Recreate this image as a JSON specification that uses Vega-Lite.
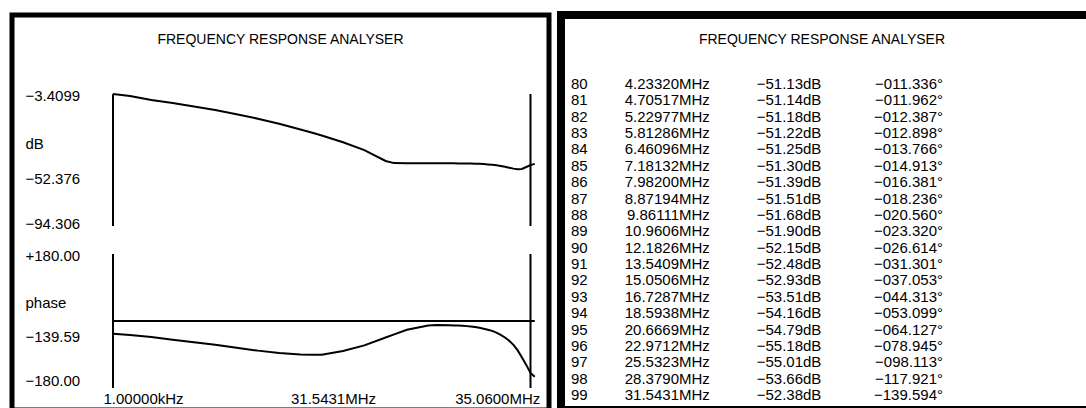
{
  "$schema": "https://vega.github.io/schema/vega-lite/v6.json",
  "background": "white",
  "padding": {"left": 9, "top": 11, "right": 0, "bottom": 2},
  "spacing": 5,
  "config": {
    "font": "Liberation Sans",
    "view": {"stroke": "black", "strokeWidth": 5},
    "axis": {"domain": false, "ticks": false, "tickSize": 0, "grid": false, "labelPadding": 0, "labelFontSize": 15, "labelColor": "black", "titleFontSize": 15, "titleFontWeight": "normal", "titleColor": "black", "labelOverlap": false, "labelFlush": false},
    "title": {"fontSize": 14, "fontWeight": "normal", "color": "black"}
  },
  "datasets": {
    "sweep": [
      {"n": 1, "f": 0.001, "db": -3.41, "phase": -34.0},
      {"n": 5, "f": 0.0015261, "db": -4.8, "phase": -37.5},
      {"n": 10, "f": 0.0025888, "db": -7.5, "phase": -43.0},
      {"n": 15, "f": 0.0043923, "db": -9.6, "phase": -50.3},
      {"n": 20, "f": 0.0074513, "db": -12.0, "phase": -57.0},
      {"n": 25, "f": 0.012637, "db": -14.4, "phase": -63.8},
      {"n": 30, "f": 0.021443, "db": -17.3, "phase": -72.0},
      {"n": 35, "f": 0.036377, "db": -20.4, "phase": -79.6},
      {"n": 40, "f": 0.061713, "db": -23.9, "phase": -85.8},
      {"n": 45, "f": 0.10468, "db": -27.8, "phase": -90.2},
      {"n": 48, "f": 0.14375, "db": -30.3, "phase": -91.0},
      {"n": 50, "f": 0.17759, "db": -32.0, "phase": -90.8},
      {"n": 55, "f": 0.30123, "db": -36.6, "phase": -80.5},
      {"n": 60, "f": 0.51094, "db": -42.0, "phase": -65.4},
      {"n": 65, "f": 0.86695, "db": -49.5, "phase": -44.2},
      {"n": 67, "f": 1.0710, "db": -51.0, "phase": -35.9},
      {"n": 70, "f": 1.4708, "db": -51.05, "phase": -23.5},
      {"n": 75, "f": 2.4950, "db": -51.1, "phase": -12.0},
      {"n": 77, "f": 3.0829, "db": -51.12, "phase": -10.8},
      {"n": 80, "f": 4.23320, "db": -51.13, "phase": -11.336},
      {"n": 81, "f": 4.70517, "db": -51.14, "phase": -11.962},
      {"n": 82, "f": 5.22977, "db": -51.18, "phase": -12.387},
      {"n": 83, "f": 5.81286, "db": -51.22, "phase": -12.898},
      {"n": 84, "f": 6.46096, "db": -51.25, "phase": -13.766},
      {"n": 85, "f": 7.18132, "db": -51.30, "phase": -14.913},
      {"n": 86, "f": 7.98200, "db": -51.39, "phase": -16.381},
      {"n": 87, "f": 8.87194, "db": -51.51, "phase": -18.236},
      {"n": 88, "f": 9.86111, "db": -51.68, "phase": -20.560},
      {"n": 89, "f": 10.9606, "db": -51.90, "phase": -23.320},
      {"n": 90, "f": 12.1826, "db": -52.15, "phase": -26.614},
      {"n": 91, "f": 13.5409, "db": -52.48, "phase": -31.301},
      {"n": 92, "f": 15.0506, "db": -52.93, "phase": -37.053},
      {"n": 93, "f": 16.7287, "db": -53.51, "phase": -44.313},
      {"n": 94, "f": 18.5938, "db": -54.16, "phase": -53.099},
      {"n": 95, "f": 20.6669, "db": -54.79, "phase": -64.127},
      {"n": 96, "f": 22.9712, "db": -55.18, "phase": -78.945},
      {"n": 97, "f": 25.5323, "db": -55.01, "phase": -98.113},
      {"n": 98, "f": 28.3790, "db": -53.66, "phase": -117.921},
      {"n": 99, "f": 31.5431, "db": -52.38, "phase": -139.594},
      {"n": 100, "f": 35.0600, "db": -51.5, "phase": -150.0}
    ],
    "dbFrame": [
      {"f": 0.001, "db": -3.4099, "db2": -94.306},
      {"f": 31.5431, "db": -3.4099, "db2": -94.306}
    ],
    "phaseFrame": [
      {"f": 0.001, "phase": 180, "phase2": -180},
      {"f": 31.5431, "phase": 180, "phase2": -180}
    ],
    "phaseZero": [
      {"f": 0.001, "f2": 35.06, "phase": 0}
    ]
  },
  "hconcat": [
    {
      "width": 537,
      "height": 395,
      "title": {"text": "FREQUENCY RESPONSE ANALYSER", "offset": -39, "baseline": "middle", "frame": "group", "anchor": "middle"},
      "encoding": {
        "x": {
          "field": "f", "type": "quantitative",
          "scale": {"type": "log", "domain": [0.00008158, 49.93], "nice": false},
          "axis": {
            "values": [0.001, 35.06],
            "orient": "bottom",
            "offset": -12,
            "labelExpr": "datum.value < 0.01 ? format(datum.value * 1000, '.6r') + 'kHz' : format(datum.value, '.6r') + 'MHz'",
            "labelBaseline": "middle",
            "labelAlign": {"condition": {"test": "datum.value < 1", "value": "left"}, "value": "right"},
            "labelOffset": {"condition": {"test": "datum.value < 1", "value": -10}, "value": 5},
            "title": "31.5431MHz",
            "titleX": 321,
            "titleY": 0,
            "titleBaseline": "middle",
            "titleAlign": "center"
          }
        }
      },
      "layer": [
        {
          "encoding": {
            "y": {
              "field": "db", "type": "quantitative",
              "scale": {"domain": [-221.0, 50.99], "nice": false, "zero": false},
              "axis": {
                "values": [-3.4099, -52.376, -94.306],
                "format": ".5",
                "orient": "left",
                "offset": -13,
                "labelAlign": "left",
                "labelBaseline": "middle",
                "labelOffset": {"condition": [{"test": "datum.value < -90", "value": -3}, {"test": "datum.value < -50", "value": 13}], "value": 1},
                "title": "dB",
                "titleAngle": 0,
                "titleAlign": "left",
                "titleBaseline": "middle",
                "titleX": 0,
                "titleY": 128
              }
            }
          },
          "layer": [
            {
              "data": {"name": "dbFrame"},
              "mark": {"type": "rule", "color": "black", "strokeWidth": 2},
              "encoding": {"y2": {"field": "db2"}}
            },
            {
              "data": {"name": "sweep"},
              "mark": {"type": "line", "color": "black", "strokeWidth": 2},
              "encoding": {}
            }
          ]
        },
        {
          "encoding": {
            "y": {
              "field": "phase", "type": "quantitative",
              "scale": {"domain": [-239.1, 822.1], "nice": false, "zero": false},
              "axis": {
                "values": [180, -139.59, -180],
                "format": "+.2f",
                "orient": "left",
                "offset": -13,
                "labelAlign": "left",
                "labelBaseline": "middle",
                "labelOffset": {"condition": [{"test": "datum.value < -170", "value": -8}, {"test": "datum.value < 0", "value": -36}], "value": 1},
                "title": "phase",
                "titleAngle": 0,
                "titleAlign": "left",
                "titleBaseline": "middle",
                "titleX": 0,
                "titleY": 287
              }
            }
          },
          "layer": [
            {
              "data": {"name": "phaseFrame"},
              "mark": {"type": "rule", "color": "black", "strokeWidth": 2},
              "encoding": {"y2": {"field": "phase2"}}
            },
            {
              "data": {"name": "phaseZero"},
              "mark": {"type": "rule", "color": "black", "strokeWidth": 2},
              "encoding": {"x2": {"field": "f2"}}
            },
            {
              "data": {"name": "sweep"},
              "mark": {"type": "line", "color": "black", "strokeWidth": 2},
              "encoding": {}
            }
          ]
        }
      ],
      "resolve": {"scale": {"y": "independent"}, "axis": {"y": "independent"}}
    },
    {
      "width": 540,
      "height": 395,
      "view": {"stroke": "black", "strokeWidth": 8},
      "title": {"text": "FREQUENCY RESPONSE ANALYSER", "offset": -39, "baseline": "middle", "frame": "group", "anchor": "middle", "dx": -9},
      "data": {"name": "sweep"},
      "transform": [{"filter": "datum.n >= 80 && datum.n <= 99"}],
      "encoding": {
        "y": {"field": "n", "type": "quantitative", "scale": {"domain": [75.784, 99.916], "reverse": true, "nice": false, "zero": false}, "axis": null}
      },
      "layer": [
        {
          "mark": {"type": "text", "align": "left", "baseline": "middle", "fontSize": 15, "color": "black", "dx": 10},
          "encoding": {
            "x": {"datum": "n", "type": "nominal", "scale": {"domain": ["n", "freq", "gain", "phase"], "padding": 0.769, "align": 0}, "axis": null},
            "text": {"field": "n", "type": "quantitative", "format": "d"}
          }
        },
        {
          "mark": {"type": "text", "align": "right", "baseline": "middle", "fontSize": 15, "color": "black", "dx": -1},
          "encoding": {
            "x": {"datum": "freq", "type": "nominal"},
            "text": {"field": "f", "type": "quantitative", "format": ".6r"}
          }
        },
        {
          "mark": {"type": "text", "align": "left", "baseline": "middle", "fontSize": 15, "color": "black", "dx": -1},
          "encoding": {
            "x": {"datum": "freq", "type": "nominal"},
            "text": {"value": "MHz"}
          }
        },
        {
          "mark": {"type": "text", "align": "right", "baseline": "middle", "fontSize": 15, "color": "black", "dx": 4},
          "encoding": {
            "x": {"datum": "gain", "type": "nominal"},
            "text": {"field": "db", "type": "quantitative", "format": ".2f"}
          }
        },
        {
          "mark": {"type": "text", "align": "left", "baseline": "middle", "fontSize": 15, "color": "black", "dx": 4},
          "encoding": {
            "x": {"datum": "gain", "type": "nominal"},
            "text": {"value": "dB"}
          }
        },
        {
          "mark": {"type": "text", "align": "right", "baseline": "middle", "fontSize": 15, "color": "black", "dx": 19},
          "encoding": {
            "x": {"datum": "phase", "type": "nominal"},
            "text": {"field": "phase", "type": "quantitative", "format": "08.3f"}
          }
        },
        {
          "mark": {"type": "text", "align": "left", "baseline": "middle", "fontSize": 15, "color": "black", "dx": 19},
          "encoding": {
            "x": {"datum": "phase", "type": "nominal"},
            "text": {"value": "°"}
          }
        }
      ]
    }
  ]
}
